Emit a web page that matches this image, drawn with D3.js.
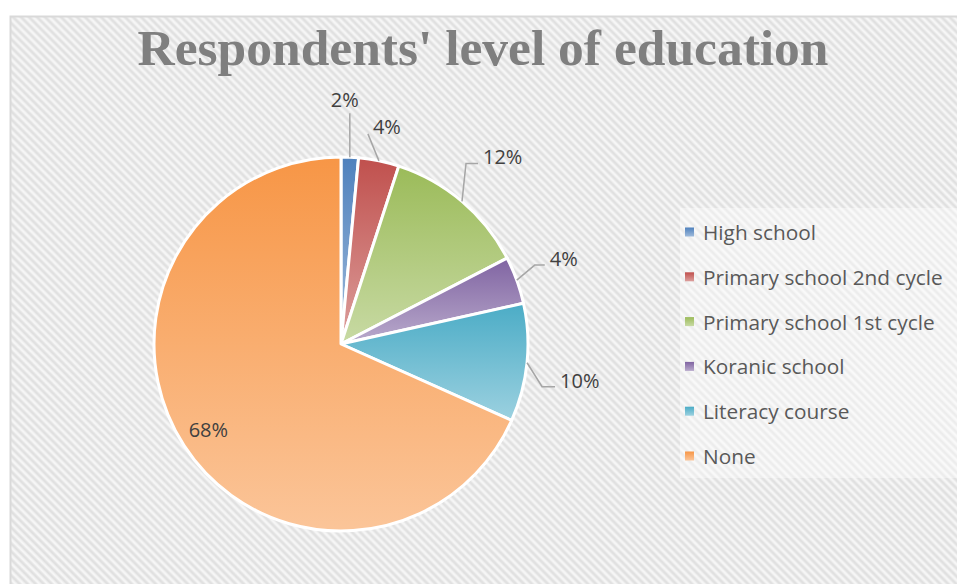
<!DOCTYPE html>
<html>
<head>
<meta charset="utf-8">
<script src="https://cdn.jsdelivr.net/npm/d3@7"></script>
<style>
  body { margin: 0; background: #fff; }
  svg { display: block; }
</style>
</head>
<body>
<svg id="chart" width="957" height="584"></svg>
<script>
// data (percent of respondents)
const categories = ["High school", "Primary school 2nd cycle", "Primary school 1st cycle", "Koranic school", "Literacy course", "None"];
const shares = [1.5, 3.5, 12.4, 4.1, 10.2, 68.3];
const colors = ["#4f81bd", "#c0504d", "#9bbb59", "#8064a2", "#4bacc6", "#f79646"];
const title = "Respondents' level of education";

// where Excel put each outside label: elbow offset from the rim, tail length
const labelLayout = [
  { dx: 0, dy: -44, tail: 0, anchor: "middle", tx: -5, ty: -6 },
  { dx: -11, dy: -27, tail: 0, anchor: "start", tx: 5, ty: 0 },
  { dx: 4, dy: -38, tail: 12, anchor: "start", tx: 5, ty: 1 },
  { dx: 18, dy: -15, tail: 10, anchor: "start", tx: 5, ty: 1 },
  { dx: 15, dy: 24, tail: 13, anchor: "start", tx: 5, ty: 1 },
  null
];

const svg = d3.select("#chart");
const defs = svg.append("defs");

// soft diagonal stripes for the chart area
let stripeGrad = defs.append("linearGradient").attr("id", "stripe-grad");
stripeGrad.append("stop").attr("offset", "0%").attr("stop-color", "#fbfbfb");
stripeGrad.append("stop").attr("offset", "50%").attr("stop-color", "#dbdbdb");
stripeGrad.append("stop").attr("offset", "100%").attr("stop-color", "#fbfbfb");

let stripes = defs.append("pattern")
  .attr("id", "stripes")
  .attr("patternUnits", "userSpaceOnUse")
  .attr("width", 5.66).attr("height", 5.66)
  .attr("patternTransform", "rotate(-45)");
stripes.append("rect").attr("width", 5.66).attr("height", 5.66).attr("fill", "url(#stripe-grad)");

svg.append("rect")
  .attr("x", 10.5).attr("y", 16.5)
  .attr("width", 960).attr("height", 580)
  .attr("fill", "url(#stripes)")
  .attr("stroke", "#d9d9d9").attr("stroke-width", 2);

// one vertical gradient per colour, light at the bottom
colors.forEach((c, i) => {
  let g = defs.append("linearGradient").attr("id", `fill${i}`)
    .attr("x1", 0).attr("y1", 0).attr("x2", 0).attr("y2", 1);
  g.append("stop").attr("offset", "0%").attr("stop-color", c);
  g.append("stop").attr("offset", "100%").attr("stop-color", d3.interpolateRgb(c, "#fff")(0.45));
});

svg.append("text")
  .attr("x", 483).attr("y", 65)
  .attr("text-anchor", "middle")
  .attr("font-family", "'Liberation Serif', serif")
  .attr("font-weight", "bold")
  .attr("font-size", 51.5)
  .attr("fill", "#7f7f7f")
  .text(title);

// pie
const cx = 341, cy = 344, radius = 187;
let arcs = d3.pie().sort(null).value(d => d)(shares);
let arc = d3.arc().innerRadius(0).outerRadius(radius);
let rim = d3.arc().innerRadius(radius).outerRadius(radius);
let inner = d3.arc().innerRadius(radius * 0.845).outerRadius(radius * 0.845);

let pieG = svg.append("g").attr("transform", `translate(${cx},${cy})`);

pieG.selectAll("path.slice")
  .data(arcs)
  .enter().append("path")
  .attr("class", "slice")
  .attr("d", arc)
  .attr("fill", (d, i) => `url(#fill${i})`)
  .attr("stroke", "#fff")
  .attr("stroke-width", 3)
  .attr("stroke-linejoin", "round");

const pct = d => Math.round(d.value) + "%";

arcs.forEach((d, i) => {
  let lay = labelLayout[i];
  if (!lay) {
    let [x, y] = inner.centroid(d);
    pieG.append("text")
      .attr("x", x).attr("y", y)
      .attr("text-anchor", "middle")
      .attr("dominant-baseline", "central")
      .attr("font-family", "'Open Sans', sans-serif")
      .attr("font-size", 20)
      .attr("fill", "#404040")
      .text(pct(d));
    return;
  }
  let [rx, ry] = rim.centroid(d);
  let ex = rx + lay.dx, ey = ry + lay.dy;
  let pts = [[rx, ry], [ex, ey]];
  if (lay.tail) pts.push([ex + lay.tail, ey]);
  pieG.append("path")
    .attr("d", d3.line()(pts))
    .attr("fill", "none")
    .attr("stroke", "#a6a6a6")
    .attr("stroke-width", 1.5);
  let end = pts[pts.length - 1];
  pieG.append("text")
    .attr("x", end[0] + lay.tx).attr("y", end[1] + lay.ty)
    .attr("text-anchor", lay.anchor)
    .attr("font-family", "'Open Sans', sans-serif")
    .attr("font-size", 20)
    .attr("fill", "#404040")
    .text(pct(d));
});

// legend
let legend = svg.append("g");
legend.append("rect")
  .attr("x", 680).attr("y", 208)
  .attr("width", 290).attr("height", 270)
  .attr("fill", "#fff").attr("opacity", 0.4);

let legendY = d3.scalePoint().domain(categories).range([232, 456]);

let rows = legend.selectAll("g.row")
  .data(categories)
  .enter().append("g")
  .attr("class", "row")
  .attr("transform", d => `translate(0,${legendY(d)})`);

rows.append("rect")
  .attr("x", 685).attr("y", -4.5)
  .attr("width", 9).attr("height", 9)
  .attr("fill", (d, i) => `url(#fill${i})`);

rows.append("text")
  .attr("x", 703).attr("y", 0)
  .attr("dominant-baseline", "central")
  .attr("font-family", "'Open Sans', sans-serif")
  .attr("font-size", 20.8)
  .attr("fill", "#595959")
  .text(d => d);
</script>
</body>
</html>
